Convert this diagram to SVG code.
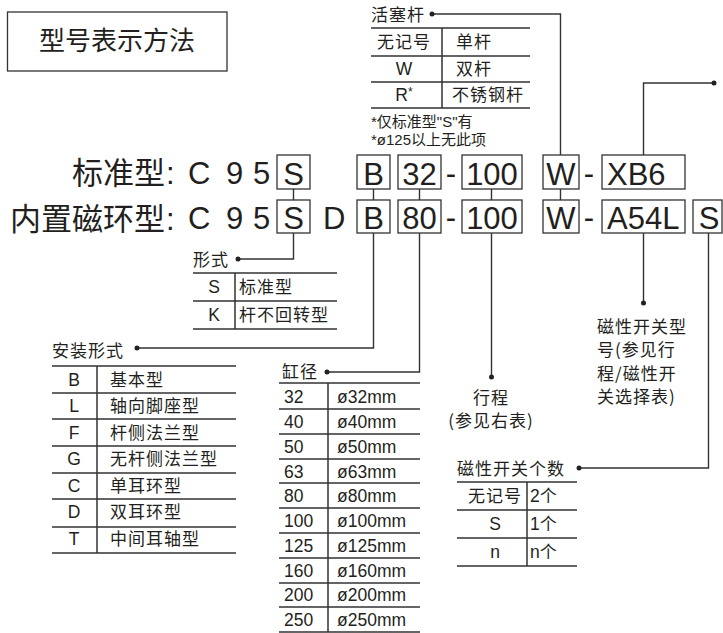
<svg xmlns="http://www.w3.org/2000/svg" width="723" height="633" viewBox="0 0 723 633">
<defs>
<style>
text{font-family:"Liberation Sans","Noto Sans CJK SC",sans-serif;fill:#231f20}
.cjk{font-family:"Noto Sans CJK SC","Liberation Sans",sans-serif}
.big{font-size:31px}
.bx{font-size:31px}
.lab{font-size:17px;letter-spacing:1px}
.t{font-size:17.5px}
.note{font-size:15px}
.mid{text-anchor:middle}
.end{text-anchor:end}
.box{fill:none;stroke:#333;stroke-width:1.3}
.rule{fill:none;stroke:#333;stroke-width:1.5}
.ln{fill:none;stroke:#333;stroke-width:1.4}
.dot{fill:#222}
</style>
</defs>
<rect width="723" height="633" fill="#fff"/>

<g id="title">
<rect x="7.5" y="12" width="219.5" height="59" class="box" stroke-width="1.5"/>
<text x="117" y="50" class="cjk mid" font-size="26">型号表示方法</text>
</g>

<g id="row-standard">
<text x="165" y="184" class="cjk end" font-size="31">标准型</text>
<text x="166" y="184" class="big">:</text>
<text x="188" y="184" class="big">C</text>
<text x="226" y="184" class="big">9</text>
<text x="253" y="184" class="big">5</text>
<rect x="277" y="155" width="33" height="34" class="box"/><text x="293.5" y="185" class="bx mid">S</text>
<rect x="357" y="155" width="33" height="34" class="box"/><text x="373.5" y="185" class="bx mid">B</text>
<rect x="398" y="155" width="43" height="34" class="box"/><text x="419.5" y="185" class="bx mid">32</text>
<text x="451" y="184" class="bx mid">-</text>
<rect x="462" y="155" width="60" height="34" class="box"/><text x="492" y="185" class="bx mid">100</text>
<rect x="543" y="155" width="36" height="34" class="box"/><text x="561" y="185" class="bx mid">W</text>
<text x="589" y="184" class="bx mid">-</text>
<rect x="602" y="155" width="83" height="34" class="box"/><text x="607" y="185" class="bx">XB6</text>
</g>

<g id="row-magnet">
<text x="165" y="230" class="cjk end" font-size="31">内置磁环型</text>
<text x="166" y="230" class="big">:</text>
<text x="188" y="229" class="big">C</text>
<text x="226" y="229" class="big">9</text>
<text x="253" y="229" class="big">5</text>
<rect x="277" y="200" width="33" height="33" class="box"/><text x="293.5" y="229" class="bx mid">S</text>
<text x="323" y="229" class="big">D</text>
<rect x="357" y="200" width="33" height="33" class="box"/><text x="373.5" y="229" class="bx mid">B</text>
<rect x="398" y="200" width="43" height="33" class="box"/><text x="419.5" y="229" class="bx mid">80</text>
<text x="451" y="228" class="bx mid">-</text>
<rect x="462" y="200" width="60" height="33" class="box"/><text x="492" y="229" class="bx mid">100</text>
<rect x="543" y="200" width="36" height="33" class="box"/><text x="561" y="229" class="bx mid">W</text>
<text x="589" y="228" class="bx mid">-</text>
<rect x="602" y="200" width="83" height="33" class="box"/><text x="607" y="229" class="bx">A54L</text>
<rect x="693" y="200" width="29" height="33" class="box"/><text x="709" y="229" class="bx mid">S</text>
</g>

<g id="connectors">
<path class="ln" d="M293.5 189V200M373.5 189V200M419.5 189V200M491.5 189V200M560.5 189V200"/>
<path class="ln" d="M432 14H560.5V155"/>
<path class="ln" d="M643.5 155V83H714"/>
<path class="ln" d="M293.5 233V259H238"/>
<path class="ln" d="M373.5 233V348H137"/>
<path class="ln" d="M419.5 233V372H327"/>
<path class="ln" d="M491.5 233V377"/>
<path class="ln" d="M643.5 233V303"/>
<path class="ln" d="M708.5 233V468H579"/>
<circle class="dot" cx="432" cy="14" r="2.5"/>
<circle class="dot" cx="714" cy="83" r="2.5"/>
<circle class="dot" cx="238" cy="259" r="2.5"/>
<circle class="dot" cx="137" cy="348" r="2.5"/>
<circle class="dot" cx="327" cy="372" r="2.5"/>
<circle class="dot" cx="491.5" cy="377" r="2.5"/>
<circle class="dot" cx="643.5" cy="303" r="2.5"/>
<circle class="dot" cx="579" cy="468" r="2.5"/>
</g>

<g id="piston-rod">
<text x="371" y="21" class="cjk lab">活塞杆</text>
<path class="rule" d="M371 28H530M371 56H530M371 82H530M371 108H530M442 28V108"/>
<text x="404" y="48" class="cjk lab mid">无记号</text><text x="456" y="48" class="cjk lab">单杆</text>
<text x="404" y="75" class="t mid">W</text><text x="456" y="75" class="cjk lab">双杆</text>
<text x="404" y="101" class="t mid">R<tspan dy="-5" font-size="12">*</tspan></text><text x="452" y="101" class="cjk lab">不锈钢杆</text>
<text x="371" y="127" class="note">*仅标准型"S"有</text>
<text x="371" y="145" class="note">*ø125以上无此项</text>
</g>

<g id="form">
<text x="193" y="266" class="cjk lab">形式</text>
<path class="rule" d="M193 273H337M193 301H337M193 329H337M235 273V329"/>
<text x="214" y="293" class="t mid">S</text><text x="239" y="293" class="cjk lab">标准型</text>
<text x="214" y="321" class="t mid">K</text><text x="239" y="321" class="cjk lab">杆不回转型</text>
</g>

<g id="mounting">
<text x="52" y="357" class="cjk lab">安装形式</text>
<path class="rule" d="M52 366H236M52 393H236M52 419H236M52 446H236M52 473H236M52 499H236M52 527H236M52 553H236M97 366V553"/>
<text x="74" y="386" class="t mid">B</text><text x="110" y="386" class="cjk lab">基本型</text>
<text x="74" y="412" class="t mid">L</text><text x="110" y="412" class="cjk lab">轴向脚座型</text>
<text x="74" y="439" class="t mid">F</text><text x="110" y="439" class="cjk lab">杆侧法兰型</text>
<text x="74" y="465" class="t mid">G</text><text x="110" y="465" class="cjk lab">无杆侧法兰型</text>
<text x="74" y="492" class="t mid">C</text><text x="110" y="492" class="cjk lab">单耳环型</text>
<text x="74" y="518" class="t mid">D</text><text x="110" y="518" class="cjk lab">双耳环型</text>
<text x="74" y="545" class="t mid">T</text><text x="110" y="545" class="cjk lab">中间耳轴型</text>
</g>

<g id="bore">
<text x="282" y="378" class="cjk lab">缸径</text>
<path class="rule" d="M279 383H420M279 409H420M279 434H420M279 459H420M279 483H420M279 508H420M279 533H420M279 558H420M279 583H420M279 607H420M279 632H420M328 383V632"/>
<text x="284" y="403" class="t">32</text><text x="337" y="403" class="t">ø32mm</text>
<text x="284" y="428" class="t">40</text><text x="337" y="428" class="t">ø40mm</text>
<text x="284" y="453" class="t">50</text><text x="337" y="453" class="t">ø50mm</text>
<text x="284" y="478" class="t">63</text><text x="337" y="478" class="t">ø63mm</text>
<text x="284" y="502" class="t">80</text><text x="337" y="502" class="t">ø80mm</text>
<text x="284" y="527" class="t">100</text><text x="337" y="527" class="t">ø100mm</text>
<text x="284" y="552" class="t">125</text><text x="337" y="552" class="t">ø125mm</text>
<text x="284" y="577" class="t">160</text><text x="337" y="577" class="t">ø160mm</text>
<text x="284" y="601" class="t">200</text><text x="337" y="601" class="t">ø200mm</text>
<text x="284" y="626" class="t">250</text><text x="337" y="626" class="t">ø250mm</text>
</g>

<g id="stroke">
<text x="491" y="404" class="cjk lab mid">行程</text>
<text x="491" y="427" class="cjk lab mid">(参见右表)</text>
</g>

<g id="switch-model">
<text x="597" y="333" class="cjk lab">磁性开关型</text>
<text x="597" y="356" class="cjk lab">号(参见行</text>
<text x="597" y="380" class="cjk lab">程/磁性开</text>
<text x="597" y="403" class="cjk lab">关选择表)</text>
</g>

<g id="switch-count">
<text x="457" y="475" class="cjk lab">磁性开关个数</text>
<path class="rule" d="M457 482H577M457 510H577M457 538H577M457 566H577M527 482V566"/>
<text x="495" y="502" class="cjk lab mid">无记号</text><text x="530" y="502" class="t">2<tspan class="cjk" font-size="17">个</tspan></text>
<text x="495" y="530" class="t mid">S</text><text x="530" y="530" class="t">1<tspan class="cjk" font-size="17">个</tspan></text>
<text x="495" y="558" class="t mid">n</text><text x="530" y="558" class="t">n<tspan class="cjk" font-size="17">个</tspan></text>
</g>
</svg>
